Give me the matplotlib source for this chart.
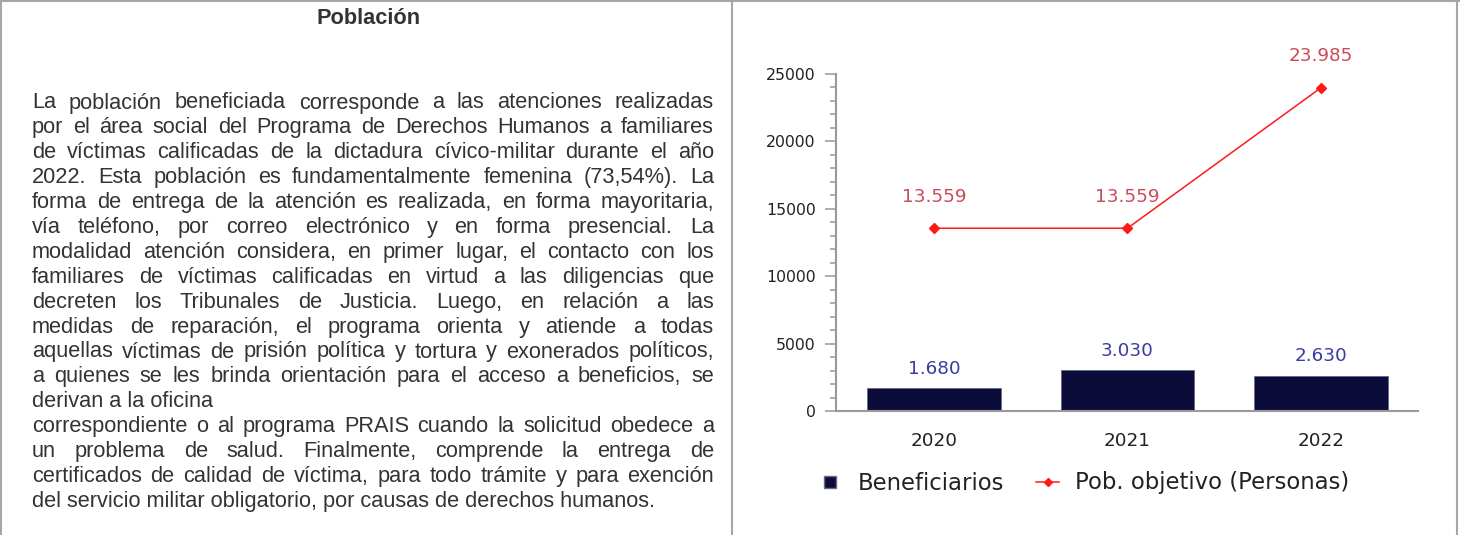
import matplotlib
matplotlib.use("Agg")
import matplotlib.pyplot as plt
from matplotlib.lines import Line2D
from matplotlib.ticker import MultipleLocator

# data
years = ["2020", "2021", "2022"]
beneficiarios = [1680, 3030, 2630]
pob_objetivo = [13559, 13559, 23985]
bar_labels = ["1.680", "3.030", "2.630"]
line_labels = ["13.559", "13.559", "23.985"]
legend_labels = ["Beneficiarios", "Pob. objetivo (Personas)"]

title = "Población"
# (line text, justified?)
text_lines = [
    ("La población beneficiada corresponde a las atenciones realizadas", True),
    ("por el área social del Programa de Derechos Humanos a familiares", True),
    ("de víctimas calificadas de la dictadura cívico-militar durante el año", True),
    ("2022. Esta población es fundamentalmente femenina (73,54%). La", True),
    ("forma de entrega de la atención es realizada, en forma mayoritaria,", True),
    ("vía teléfono, por correo electrónico y en forma presencial. La", True),
    ("modalidad atención considera, en primer lugar, el contacto con los", True),
    ("familiares de víctimas calificadas en virtud a las diligencias que", True),
    ("decreten los Tribunales de Justicia. Luego, en relación a las", True),
    ("medidas de reparación, el programa orienta y atiende a todas", True),
    ("aquellas víctimas de prisión política y tortura y exonerados políticos,", True),
    ("a quienes se les brinda orientación para el acceso a beneficios, se", True),
    ("derivan a la oficina", False),
    ("correspondiente o al programa PRAIS cuando la solicitud obedece a", True),
    ("un problema de salud. Finalmente, comprende la entrega de", True),
    ("certificados de calidad de víctima, para todo trámite y para exención", True),
    ("del servicio militar obligatorio, por causas de derechos humanos.", False),
]

W, H = 1460, 535
fig = plt.figure(figsize=(W / 100, H / 100), dpi=100)
fig.patch.set_facecolor("white")

def fx(px):
    return px / W

def fy(py):
    return 1 - py / H

# frame lines
border = "#a6a6a6"
for xs, ys in [((1, 1), (0, H)), ((0, W), (1, 1)), ((1457, 1457), (0, H)), ((732, 732), (0, H))]:
    fig.add_artist(Line2D([fx(x) for x in xs], [fy(y) for y in ys], color=border, lw=1.5))

# left text panel
txt_color = "#333333"
fsize = 15.7
fig.text(fx(369), fy(18), title, ha="center", va="center", fontsize=fsize,
         fontweight="bold", family="Liberation Sans", color=txt_color)

renderer = fig.canvas.get_renderer()
x0, x1 = 32, 714
for i, (line, just) in enumerate(text_lines):
    y = fy(108.5 + i * 24.9)
    if not just:
        fig.text(fx(x0), y, line, ha="left", va="baseline", fontsize=fsize,
                 family="Liberation Sans", color=txt_color)
        continue
    words = line.split()
    objs = [fig.text(0, y, w, ha="left", va="baseline", fontsize=fsize,
                     family="Liberation Sans", color=txt_color) for w in words]
    widths = [o.get_window_extent(renderer).width for o in objs]
    gap = (x1 - x0 - sum(widths)) / (len(words) - 1)
    pos = x0
    for o, w in zip(objs, widths):
        o.set_x(fx(pos))
        pos += w + gap

# chart
ax = fig.add_axes([fx(836), 124 / H, fx(1418) - fx(836), 337 / H])
xs = list(range(len(years)))
ax.bar(xs, beneficiarios, width=0.69, color="#0c0c3a", edgecolor="#6a6a8a", linewidth=0.6, zorder=2)
ax.plot(xs, pob_objetivo, color="#ff1a1a", lw=1.1, marker="D", markersize=5, zorder=3, clip_on=False)

for x, v, lab in zip(xs, beneficiarios, bar_labels):
    ax.annotate(lab, (x, v), xytext=(0, 14), textcoords="offset points", ha="center",
                va="center", fontsize=13.2, color="#3b3ba3", family="DejaVu Sans")
for x, v, lab in zip(xs, pob_objetivo, line_labels):
    ax.annotate(lab, (x, v), xytext=(0, 22.5), textcoords="offset points", ha="center",
                va="center", fontsize=13.2, color="#cc4a58", family="DejaVu Sans",
                annotation_clip=False)

ax.set_xlim(-0.506, 2.501)
ax.set_ylim(0, 25000)
ax.yaxis.set_major_locator(MultipleLocator(5000))
ax.yaxis.set_minor_locator(MultipleLocator(1000))
ax.set_xticks(xs)
ax.set_xticklabels(years, fontsize=13.2, color="#222222", family="DejaVu Sans")
for lab in ax.get_yticklabels():
    lab.set_fontsize(11.3)
    lab.set_color("#222222")
ax.tick_params(axis="x", length=0, pad=15)
ax.tick_params(axis="y", which="major", length=8, width=1.1, color="#999999", pad=6.5)
ax.tick_params(axis="y", which="minor", length=4.3, width=1.1, color="#999999")
for s in ["top", "right"]:
    ax.spines[s].set_visible(False)
for s in ["left", "bottom"]:
    ax.spines[s].set_color("#999999")
    ax.spines[s].set_linewidth(1.5)

handles = [
    Line2D([], [], marker="s", ls="none", markersize=8.5, color="#0c0c3a", markeredgecolor="#6a6a8a"),
    Line2D([], [], color="#ff1a1a", lw=1.1, marker="D", markersize=4.5),
]
fig.legend(handles, legend_labels, loc="center", bbox_to_anchor=(fx(1084), 52 / H), ncol=2,
           frameon=False, prop={"family": "DejaVu Sans", "size": 16.4}, labelcolor="#222222",
           handlelength=1.05, handletextpad=0.7, columnspacing=1.36)

fig.savefig("out.png", dpi=100, facecolor="white")
